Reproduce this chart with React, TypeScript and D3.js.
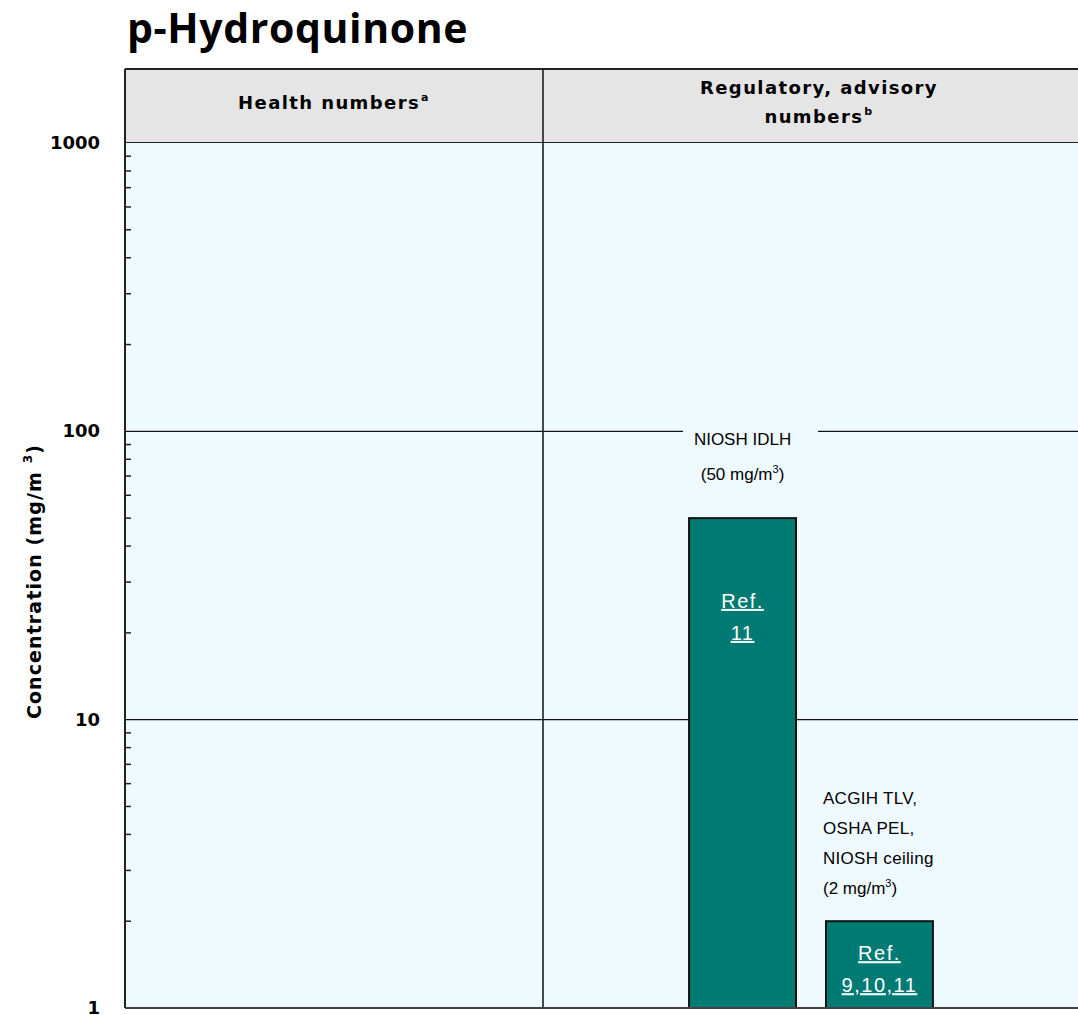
import React, { useEffect } from "react";
import { scaleLog, scaleBand } from "d3";

// chart values
const title = "p-Hydroquinone";
const columnTitles = [
  { lines: ["Health numbers"], sup: "a" },
  { lines: ["Regulatory, advisory", "numbers"], sup: "b" },
];
const barIds = ["idlh", "ceiling"];
const barValues = [50, 2];
const barLabels = [["NIOSH IDLH", "(50 mg/m", "3", ")"], ["ACGIH TLV,", "OSHA PEL,", "NIOSH ceiling", "(2 mg/m", "3", ")"]];
const barRefs = [["Ref.", "11"], ["Ref.", "9,10,11"]];
const refAt = [25, 1.5];
const majorTicks = [1, 10, 100, 1000];
const yDomain = [1, 1000];

const W = 1078;
const H = 1015;
const left = 125;
const right = 1095;
const split = 543;
const headTop = 69;
const top = 143;
const bottom = 1008;

const teal = "#007b74";
const smallFont = "'Liberation Sans', Arial, sans-serif";
const boldFont = "'DejaVu Sans', Verdana, sans-serif";

export default function App() {
  useEffect(() => {
    document.body.style.margin = "0";
  }, []);

  const y = scaleLog().domain(yDomain).range([bottom, top]);
  const x = scaleBand().domain(barIds).range([674, 948]).paddingInner(0.219).paddingOuter(0.11);

  const minor: number[] = [];
  for (let d = 1; d < 1000; d *= 10) {
    for (let k = 2; k <= 9; k++) minor.push(d * k);
  }

  const b0 = x(barIds[0])! + x.bandwidth() / 2;
  const b1x = x(barIds[1])!;

  return (
    <svg width={W} height={H} style={{ display: "block", background: "#fff" }}>
      <text x={127} y={43} fontFamily="'Open Sans', sans-serif" fontWeight={700} fontSize={41} letterSpacing={0.6} fill="#000">
        {title}
      </text>

      {/* header row */}
      <rect x={left} y={headTop} width={right - left} height={top - headTop} fill="#e5e5e5" />
      <line x1={left} x2={right} y1={headTop} y2={headTop} stroke="#222" strokeWidth={2} />
      <line x1={left} x2={right} y1={top} y2={top} stroke="#222" strokeWidth={2} />

      {/* plot area */}
      <rect x={left} y={top} width={right - left} height={bottom - top} fill="#eefaff" />

      {/* header texts */}
      {columnTitles.map((c, i) => {
        const cx = i === 0 ? (left + split) / 2 : (split + right) / 2;
        const y0 = c.lines.length === 1 ? 109 : 94;
        return c.lines.map((ln, j) => (
          <text
            key={`${i}-${j}`}
            x={cx}
            y={y0 + j * 29}
            textAnchor="middle"
            fontFamily={boldFont}
            fontWeight={700}
            fontSize={18}
            letterSpacing={1.4}
            fill="#000"
          >
            {ln}
            {j === c.lines.length - 1 && (
              <tspan dx={1} dy={-8} fontSize={11}>
                {c.sup}
              </tspan>
            )}
          </text>
        ));
      })}

      {/* grid lines at decades, gap behind IDLH label */}
      {majorTicks.slice(1, 3).map((t) =>
        t === 100 ? (
          <g key={t}>
            <line x1={left} x2={683} y1={y(t)} y2={y(t)} stroke="#111" strokeWidth={1.3} />
            <line x1={818} x2={right} y1={y(t)} y2={y(t)} stroke="#111" strokeWidth={1.3} />
          </g>
        ) : (
          <line key={t} x1={left} x2={right} y1={y(t)} y2={y(t)} stroke="#111" strokeWidth={1.3} />
        )
      )}

      {/* column divider */}
      <line x1={split} x2={split} y1={headTop} y2={bottom} stroke="#111" strokeWidth={1.5} />

      {/* bars */}
      {barIds.map((id, i) => (
        <rect
          key={id}
          x={x(id)}
          y={y(barValues[i])}
          width={x.bandwidth()}
          height={bottom - y(barValues[i])}
          fill={teal}
          stroke="#111"
          strokeWidth={2}
        />
      ))}

      {/* ref texts */}
      {barIds.map((id, i) => {
        const cx = x(id)! + x.bandwidth() / 2;
        const cy = y(refAt[i]);
        return barRefs[i].map((r, j) => (
          <text
            key={`${id}-${j}`}
            x={cx}
            y={cy + 3 + j * 32}
            textAnchor="middle"
            fontFamily={smallFont}
            fontSize={20}
            letterSpacing={1.5}
            fill="#fff"
            textDecoration="underline"
          >
            {r}
          </text>
        ));
      })}

      {/* bar labels */}
      <text x={b0} y={y(100) + 14} textAnchor="middle" fontFamily={smallFont} fontSize={17} fill="#000" letterSpacing={0}>
        {barLabels[0][0]}
      </text>
      <text x={b0} y={y(100) + 49} textAnchor="middle" fontFamily={smallFont} fontSize={17} fill="#000" letterSpacing={0}>
        {barLabels[0][1]}
        <tspan dy={-7} fontSize={11}>{barLabels[0][2]}</tspan>
        <tspan dy={7}>{barLabels[0][3]}</tspan>
      </text>
      {barLabels[1].slice(0, 3).map((ln, j) => (
        <text key={ln} x={b1x - 3} y={804 + j * 30} fontFamily={smallFont} fontSize={17} fill="#000" letterSpacing={0.3}>
          {ln}
        </text>
      ))}
      <text x={b1x - 3} y={894} fontFamily={smallFont} fontSize={17} fill="#000" letterSpacing={0}>
        {barLabels[1][3]}
        <tspan dy={-7} fontSize={11}>{barLabels[1][4]}</tspan>
        <tspan dy={7}>{barLabels[1][5]}</tspan>
      </text>

      {/* y axis */}
      <line x1={left} x2={left} y1={top} y2={bottom} stroke="#222" strokeWidth={2} />
      <line x1={left} x2={right} y1={bottom} y2={bottom} stroke="#444" strokeWidth={2} />
      <line x1={left} x2={left} y1={headTop} y2={top} stroke="#222" strokeWidth={2} />
      {minor.map((t) => (
        <line key={t} x1={left} x2={left + 6} y1={y(t)} y2={y(t)} stroke="#222" strokeWidth={1.5} />
      ))}
      {majorTicks.map((t) => (
        <text
          key={t}
          x={100}
          y={y(t) + 6}
          textAnchor="end"
          fontFamily={boldFont}
          fontWeight={700}
          fontSize={18}
          fill="#000"
        >
          {t}
        </text>
      ))}
      <text
        transform={`translate(41, ${(top + bottom) / 2 + 6}) rotate(-90)`}
        textAnchor="middle"
        fontFamily={boldFont}
        fontWeight={700}
        fontSize={19}
        letterSpacing={1.1}
        fill="#000"
      >
        Concentration (mg/m
        <tspan dx={8} dy={-9} fontSize={12}>3</tspan>
        <tspan dy={9}>)</tspan>
      </text>
    </svg>
  );
}
